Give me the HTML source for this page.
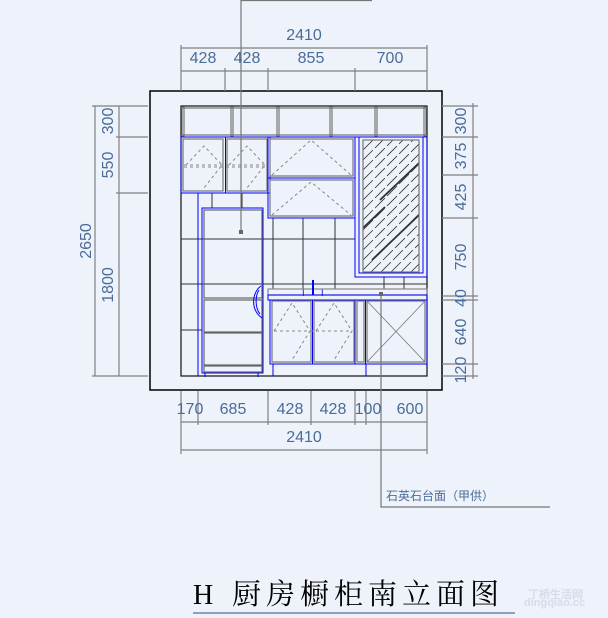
<!DOCTYPE html>
<html><head><meta charset="utf-8"><style>
html,body{margin:0;padding:0;background:#eef2fa;}
svg{display:block}
.d{font-family:"Liberation Sans",sans-serif;font-size:16px;fill:#4a6c98;}
</style></head><body>
<svg width="608" height="618" viewBox="0 0 608 618" xmlns="http://www.w3.org/2000/svg">
<defs><clipPath id="gl"><rect x="363" y="140" width="56" height="132"/></clipPath></defs>
<rect width="608" height="618" fill="#eef2fa"/>
<rect x="150" y="91" width="292" height="299" fill="none" stroke="#000" stroke-width="1.5"/>
<rect x="181" y="106" width="246" height="270" fill="none" stroke="#111" stroke-width="1.2"/>
<g stroke="#333" stroke-width="1">
<line x1="181" y1="239" x2="355" y2="239"/><line x1="181" y1="284" x2="427" y2="284"/><line x1="181" y1="330" x2="202" y2="330"/>
<line x1="273" y1="218" x2="273" y2="289"/><line x1="303" y1="218" x2="303" y2="289"/><line x1="335" y1="218" x2="335" y2="289"/>
<line x1="212" y1="193" x2="212" y2="208"/><line x1="242" y1="193" x2="242" y2="208"/>
<line x1="384" y1="277" x2="384" y2="289"/><line x1="404" y1="277" x2="404" y2="289"/>
</g>
<line x1="198" y1="193" x2="198" y2="376" stroke="#00f"/>
<g fill="none" stroke="#777" stroke-width="1.2">
<line x1="181" y1="108" x2="427" y2="108"/><line x1="181" y1="135" x2="427" y2="135"/>
<rect x="182" y="107" width="2" height="29"/><rect x="231" y="107" width="2" height="29"/><rect x="277" y="107" width="2" height="29"/><rect x="330" y="107" width="2" height="29"/><rect x="375" y="107" width="2" height="29"/><rect x="424" y="107" width="2" height="29"/>
</g>
<rect x="181" y="137" width="89" height="56" fill="none" stroke="#00f"/>
<line x1="225.5" y1="137" x2="225.5" y2="193" stroke="#00f"/>
<rect x="183" y="139" width="40" height="52" fill="none" stroke="#777" stroke-width="1.2"/>
<rect x="227" y="139" width="40" height="52" fill="none" stroke="#777" stroke-width="1.2"/>
<g stroke="#888" stroke-dasharray="3,3" fill="none">
<line x1="184" y1="165" x2="266" y2="165"/><line x1="184" y1="167" x2="266" y2="167"/>
<polyline points="186,165 204,146 222,165 204,188"/><polyline points="229,165 247,146 265,165 247,188"/>
</g>
<rect x="268" y="137" width="87" height="81" fill="none" stroke="#00f"/>
<line x1="268" y1="178" x2="355" y2="178" stroke="#00f"/>
<rect x="270" y="139" width="83" height="37" fill="none" stroke="#777" stroke-width="1.2"/>
<rect x="270" y="180" width="83" height="36" fill="none" stroke="#777" stroke-width="1.2"/>
<g stroke="#888" stroke-dasharray="3,3" fill="none">
<polyline points="272,175 311,140 351,175"/><polyline points="272,215 311,182 351,215"/>
</g>
<rect x="355" y="137" width="72" height="140" fill="none" stroke="#00f"/>
<rect x="359" y="137" width="64" height="136" fill="none" stroke="#00f"/>
<g clip-path="url(#gl)" stroke="#333" stroke-width="0.8" stroke-dasharray="14,3">
<line x1="363" y1="150" x2="373" y2="140"/><line x1="363" y1="160" x2="383" y2="140"/><line x1="363" y1="170" x2="393" y2="140"/><line x1="363" y1="180" x2="403" y2="140"/>
<line x1="363" y1="190" x2="413" y2="140"/><line x1="363" y1="200" x2="419" y2="144"/><line x1="363" y1="210" x2="419" y2="154"/><line x1="363" y1="220" x2="419" y2="164"/>
<line x1="363" y1="230" x2="419" y2="174"/><line x1="363" y1="240" x2="419" y2="184"/><line x1="363" y1="250" x2="419" y2="194"/><line x1="363" y1="260" x2="419" y2="204"/>
<line x1="363" y1="270" x2="419" y2="214"/><line x1="371" y1="272" x2="419" y2="224"/><line x1="381" y1="272" x2="419" y2="234"/><line x1="391" y1="272" x2="419" y2="244"/>
<line x1="401" y1="272" x2="419" y2="254"/><line x1="411" y1="272" x2="419" y2="264"/>
</g>
<g clip-path="url(#gl)" stroke="#333" stroke-width="1.8">
<line x1="363" y1="228" x2="385" y2="207"/><line x1="380" y1="200" x2="419" y2="163"/><line x1="372" y1="260" x2="419" y2="215"/>
</g>
<rect x="363" y="140" width="56" height="132" fill="none" stroke="#777" stroke-width="1.2"/>
<rect x="202" y="208" width="61" height="165" fill="none" stroke="#00f"/>
<g fill="none" stroke="#666" stroke-width="1.2">
<rect x="204" y="210" width="58" height="88"/><rect x="204" y="300" width="58" height="32"/><rect x="204" y="333" width="58" height="32"/><rect x="204" y="366" width="58" height="6"/>
</g>
<path d="M261 286 C252 292 250 310 262 318 M259 290 C255 296 255 308 260 314" fill="none" stroke="#00f"/>
<line x1="205" y1="373" x2="205" y2="377" stroke="#00f"/><line x1="258" y1="373" x2="258" y2="377" stroke="#00f"/>
<rect x="268" y="289" width="159" height="6" fill="none" stroke="#888" stroke-width="1.2"/>
<rect x="268" y="295" width="159" height="5" fill="none" stroke="#00f"/>
<line x1="313" y1="280" x2="313" y2="295" stroke="#00f" stroke-width="2"/>
<text x="302" y="296" font-family="Liberation Sans" font-size="9" fill="#00f">I</text><text x="321" y="296" font-family="Liberation Sans" font-size="9" fill="#00f">I</text>
<rect x="270" y="300" width="157" height="64" fill="none" stroke="#00f"/>
<line x1="312.5" y1="300" x2="312.5" y2="364" stroke="#00f"/><line x1="355" y1="300" x2="355" y2="364" stroke="#00f"/><line x1="365.5" y1="300" x2="365.5" y2="364" stroke="#00f"/>
<line x1="273" y1="364" x2="273" y2="376" stroke="#00f"/><line x1="366" y1="364" x2="366" y2="376" stroke="#00f"/>
<g fill="none" stroke="#777" stroke-width="1.2">
<rect x="272" y="301" width="39" height="61"/><rect x="314" y="301" width="40" height="61"/><rect x="357" y="301" width="7" height="61"/><rect x="367" y="301" width="58" height="61"/>
<line x1="367" y1="301" x2="425" y2="362" stroke-width="0.8"/><line x1="425" y1="301" x2="367" y2="362" stroke-width="0.8"/>
</g>
<g stroke="#888" stroke-dasharray="3,3" fill="none">
<line x1="274" y1="331" x2="352" y2="331"/><polyline points="274,331 292,303 310,331 292,360"/><polyline points="316,331 334,303 352,331 334,360"/>
</g>
<g stroke="#777" stroke-width="1.2" fill="none">
<polyline points="372,0.5 241,0.5 241,232"/>
<polyline points="381,294 381,507 550,507"/>
</g>
<rect x="239" y="230" width="4" height="4" fill="#666"/><rect x="379" y="292" width="4" height="4" fill="#666"/>
<text x="386" y="500" font-family="Liberation Sans,'Noto Sans CJK SC',sans-serif" font-size="12" fill="#4a6c98">石英石台面（甲供）</text>
<g stroke="#808080" stroke-width="1.2" fill="none">
<line x1="181" y1="48" x2="427" y2="48"/><line x1="181" y1="71" x2="427" y2="71"/>
<line x1="181" y1="45" x2="181" y2="91"/><line x1="427" y1="45" x2="427" y2="91"/>
<line x1="225" y1="68" x2="225" y2="91"/><line x1="268" y1="68" x2="268" y2="91"/><line x1="355" y1="68" x2="355" y2="91"/>
<line x1="95" y1="106" x2="95" y2="376"/><line x1="119" y1="106" x2="119" y2="376"/>
<line x1="92" y1="106" x2="148" y2="106"/><line x1="92" y1="376" x2="148" y2="376"/><line x1="116" y1="137" x2="148" y2="137"/><line x1="116" y1="193" x2="148" y2="193"/>
<line x1="473" y1="103" x2="473" y2="379"/>
<line x1="442" y1="106" x2="478" y2="106"/><line x1="442" y1="137" x2="478" y2="137"/><line x1="442" y1="175" x2="478" y2="175"/><line x1="442" y1="218" x2="478" y2="218"/><line x1="442" y1="296" x2="478" y2="296"/><line x1="442" y1="300" x2="478" y2="300"/><line x1="442" y1="364" x2="478" y2="364"/><line x1="442" y1="376" x2="478" y2="376"/>
<line x1="181" y1="422" x2="427" y2="422"/><line x1="181" y1="450" x2="427" y2="450"/>
<line x1="181" y1="391" x2="181" y2="454"/><line x1="427" y1="391" x2="427" y2="454"/>
<line x1="198" y1="391" x2="198" y2="425"/><line x1="268" y1="391" x2="268" y2="425"/><line x1="311" y1="391" x2="311" y2="425"/><line x1="355" y1="391" x2="355" y2="425"/><line x1="366" y1="391" x2="366" y2="425"/>
</g>
<g class="d" text-anchor="middle">
<text x="304" y="40">2410</text>
<text x="203" y="63">428</text><text x="247" y="63">428</text><text x="311" y="63">855</text><text x="390" y="63">700</text>
<text x="190" y="414">170</text><text x="233" y="414">685</text><text x="290" y="414">428</text><text x="333" y="414">428</text><text x="368" y="414">100</text><text x="410" y="414">600</text>
<text x="304" y="442">2410</text>
<text transform="translate(91,241) rotate(-90)">2650</text>
<text transform="translate(113,121) rotate(-90)">300</text>
<text transform="translate(113,165) rotate(-90)">550</text>
<text transform="translate(113,285) rotate(-90)">1800</text>
<text transform="translate(466,121) rotate(-90)">300</text>
<text transform="translate(466,156) rotate(-90)">375</text>
<text transform="translate(466,197) rotate(-90)">425</text>
<text transform="translate(466,257) rotate(-90)">750</text>
<text transform="translate(466,298) rotate(-90)">40</text>
<text transform="translate(466,332) rotate(-90)">640</text>
<text transform="translate(466,370) rotate(-90)">120</text>
</g>
<text x="193" y="604" font-family="'Liberation Serif',serif" font-size="28" fill="#000">H</text>
<text x="232" y="604" font-family="'Liberation Serif','Noto Serif CJK SC',serif" font-size="29" fill="#000" letter-spacing="5">厨房橱柜南立面图</text>
<line x1="193" y1="613" x2="515" y2="613" stroke="#5a7090" stroke-width="1.2"/>
<text x="528" y="598" font-family="Liberation Sans,sans-serif" font-size="11" font-weight="bold" fill="#d6dcea">丁桥生活网</text>
<text x="524" y="606" font-family="Liberation Sans,sans-serif" font-size="11" font-weight="bold" fill="#d6dcea">dingqiao.cc</text>
</svg>
</body></html>
